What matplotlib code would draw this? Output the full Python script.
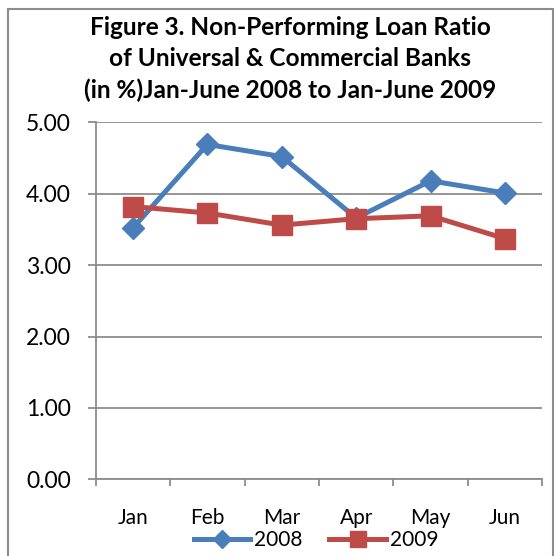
import matplotlib
matplotlib.use("Agg")
import matplotlib.pyplot as plt
from matplotlib.patches import Rectangle
from matplotlib.lines import Line2D

months = ["Jan", "Feb", "Mar", "Apr", "May", "Jun"]
series_2008 = [3.52, 4.69, 4.52, 3.66, 4.18, 4.01]
series_2009 = [3.82, 3.73, 3.56, 3.65, 3.69, 3.37]
yticks = [0, 1, 2, 3, 4, 5]
title = "Figure 3. Non-Performing Loan Ratio\nof Universal & Commercial Banks\n(in %)Jan-June 2008 to Jan-June 2009"

plt.rcParams['font.family'] = ['Lato', 'DejaVu Sans']

W, H = 554, 556
fig = plt.figure(figsize=(W / 100, H / 100), dpi=100)

# outer chart border
fig.add_artist(Rectangle((8 / W, -0.05), (553 - 8) / W, (H - 9) / H + 0.05,
                         transform=fig.transFigure, fill=False,
                         edgecolor="#8c8c8c", linewidth=1.5))

left, right, top, bottom = 95.7, 542.3, 122.3, 479.3
ax = fig.add_axes([left / W, (H - bottom) / H, (right - left) / W, (bottom - top) / H])

blue = "#4A7EBB"
red = "#BE4B48"
x = list(range(len(months)))
ax.plot(x, series_2008, color=blue, lw=3.6, marker="D", ms=11, mec=blue, mfc=blue, zorder=3)
ax.plot(x, series_2009, color=red, lw=3.6, marker="s", ms=14, mec=red, mfc=red, zorder=4)

ax.set_xlim(-0.5, len(months) - 0.5)
ax.set_ylim(0, 5)
ax.set_yticks(yticks)
ax.set_yticklabels([f"{v:.2f}" for v in yticks])
ax.set_xticks(x)
ax.set_xticklabels(months)
ax.set_xticks([i - 0.5 for i in range(len(months) + 1)], minor=True)

ax.yaxis.grid(True, color="#8c8c8c", lw=1.3)
ax.set_axisbelow(True)
for s in ["top", "right"]:
    ax.spines[s].set_visible(False)
for s in ["left", "bottom"]:
    ax.spines[s].set_color("#8c8c8c")
    ax.spines[s].set_linewidth(1.3)

ax.tick_params(axis="y", length=6, width=1.3, color="#8c8c8c", pad=12, labelsize=16.5, labelcolor="black")
ax.tick_params(axis="x", which="major", length=0, pad=21, labelsize=15, labelcolor="black")
ax.tick_params(axis="x", which="minor", length=5, width=1.3, color="#8c8c8c")

fig.text(290 / W, 1 - 16 / H, title, ha="center", va="top", fontsize=17.6, fontweight="bold",
         linespacing=1.42)

handles = [Line2D([], [], color=blue, lw=3.6, marker="D", ms=9),
           Line2D([], [], color=red, lw=3.6, marker="s", ms=12)]
fig.legend(handles, ["2008", "2009"], loc="center", bbox_to_anchor=(316 / W, 1 - 540 / H),
           ncol=2, frameon=False, fontsize=15, handlelength=2.7, handletextpad=0.2,
           columnspacing=1.3, borderpad=0)

fig.savefig("out.png", dpi=100)
